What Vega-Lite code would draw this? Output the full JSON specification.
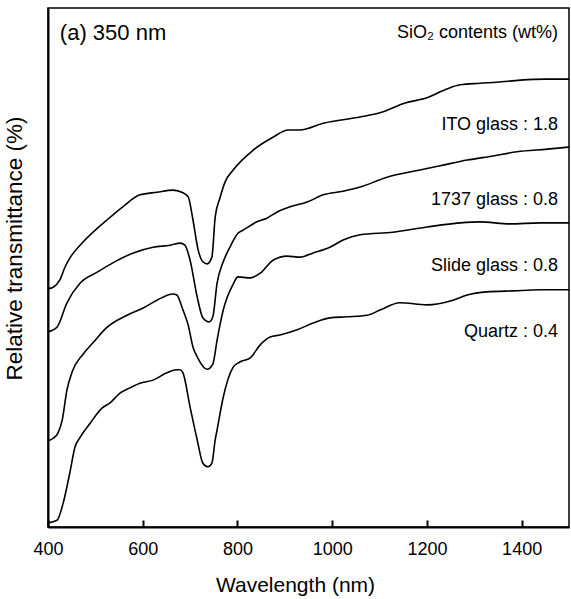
{
  "$schema": "https://vega.github.io/schema/vega-lite/v6.json",
  "width": 521,
  "height": 519,
  "autosize": {"type": "none"},
  "padding": {"left": 48, "top": 8, "right": 2, "bottom": 72},
  "background": "white",
  "config": {
    "view": {"stroke": "black", "strokeWidth": 1.5},
    "font": "Liberation Sans"
  },
  "datasets": {
    "curves": [
      {"sample": "ITO", "wavelength": 400, "t": 45.9},
      {"sample": "ITO", "wavelength": 411, "t": 46.2},
      {"sample": "ITO", "wavelength": 425, "t": 47.6},
      {"sample": "ITO", "wavelength": 436, "t": 50.1},
      {"sample": "ITO", "wavelength": 446, "t": 51.8},
      {"sample": "ITO", "wavelength": 474, "t": 54.9},
      {"sample": "ITO", "wavelength": 525, "t": 59.2},
      {"sample": "ITO", "wavelength": 558, "t": 61.7},
      {"sample": "ITO", "wavelength": 594, "t": 64.0},
      {"sample": "ITO", "wavelength": 630, "t": 64.5},
      {"sample": "ITO", "wavelength": 664, "t": 64.9},
      {"sample": "ITO", "wavelength": 685, "t": 64.4},
      {"sample": "ITO", "wavelength": 696, "t": 63.6},
      {"sample": "ITO", "wavelength": 706, "t": 59.2},
      {"sample": "ITO", "wavelength": 717, "t": 53.4},
      {"sample": "ITO", "wavelength": 727, "t": 51.1},
      {"sample": "ITO", "wavelength": 736, "t": 50.7},
      {"sample": "ITO", "wavelength": 746, "t": 52.0},
      {"sample": "ITO", "wavelength": 753, "t": 59.7},
      {"sample": "ITO", "wavelength": 763, "t": 63.4},
      {"sample": "ITO", "wavelength": 774, "t": 66.5},
      {"sample": "ITO", "wavelength": 791, "t": 68.8},
      {"sample": "ITO", "wavelength": 833, "t": 72.6},
      {"sample": "ITO", "wavelength": 875, "t": 75.1},
      {"sample": "ITO", "wavelength": 907, "t": 76.5},
      {"sample": "ITO", "wavelength": 932, "t": 76.5},
      {"sample": "ITO", "wavelength": 981, "t": 77.8},
      {"sample": "ITO", "wavelength": 1059, "t": 79.0},
      {"sample": "ITO", "wavelength": 1101, "t": 79.8},
      {"sample": "ITO", "wavelength": 1154, "t": 81.7},
      {"sample": "ITO", "wavelength": 1200, "t": 82.7},
      {"sample": "ITO", "wavelength": 1242, "t": 84.4},
      {"sample": "ITO", "wavelength": 1270, "t": 85.2},
      {"sample": "ITO", "wavelength": 1312, "t": 85.5},
      {"sample": "ITO", "wavelength": 1348, "t": 85.7},
      {"sample": "ITO", "wavelength": 1397, "t": 86.1},
      {"sample": "ITO", "wavelength": 1449, "t": 86.3},
      {"sample": "ITO", "wavelength": 1500, "t": 86.3},

      {"sample": "1737", "wavelength": 400, "t": 37.6},
      {"sample": "1737", "wavelength": 419, "t": 38.5},
      {"sample": "1737", "wavelength": 440, "t": 43.2},
      {"sample": "1737", "wavelength": 468, "t": 47.0},
      {"sample": "1737", "wavelength": 504, "t": 49.1},
      {"sample": "1737", "wavelength": 537, "t": 50.9},
      {"sample": "1737", "wavelength": 580, "t": 52.8},
      {"sample": "1737", "wavelength": 622, "t": 53.9},
      {"sample": "1737", "wavelength": 658, "t": 54.3},
      {"sample": "1737", "wavelength": 679, "t": 54.7},
      {"sample": "1737", "wavelength": 689, "t": 54.3},
      {"sample": "1737", "wavelength": 700, "t": 51.4},
      {"sample": "1737", "wavelength": 715, "t": 44.3},
      {"sample": "1737", "wavelength": 727, "t": 40.3},
      {"sample": "1737", "wavelength": 740, "t": 39.5},
      {"sample": "1737", "wavelength": 748, "t": 40.5},
      {"sample": "1737", "wavelength": 757, "t": 47.0},
      {"sample": "1737", "wavelength": 770, "t": 51.1},
      {"sample": "1737", "wavelength": 784, "t": 53.9},
      {"sample": "1737", "wavelength": 801, "t": 56.6},
      {"sample": "1737", "wavelength": 812, "t": 57.2},
      {"sample": "1737", "wavelength": 841, "t": 58.8},
      {"sample": "1737", "wavelength": 862, "t": 59.5},
      {"sample": "1737", "wavelength": 884, "t": 60.7},
      {"sample": "1737", "wavelength": 911, "t": 61.7},
      {"sample": "1737", "wavelength": 947, "t": 62.6},
      {"sample": "1737", "wavelength": 981, "t": 64.0},
      {"sample": "1737", "wavelength": 1023, "t": 64.7},
      {"sample": "1737", "wavelength": 1059, "t": 65.5},
      {"sample": "1737", "wavelength": 1116, "t": 67.4},
      {"sample": "1737", "wavelength": 1164, "t": 68.4},
      {"sample": "1737", "wavelength": 1228, "t": 69.6},
      {"sample": "1737", "wavelength": 1285, "t": 70.7},
      {"sample": "1737", "wavelength": 1340, "t": 71.5},
      {"sample": "1737", "wavelength": 1390, "t": 72.3},
      {"sample": "1737", "wavelength": 1454, "t": 72.8},
      {"sample": "1737", "wavelength": 1500, "t": 73.2},

      {"sample": "Slide", "wavelength": 400, "t": 16.6},
      {"sample": "Slide", "wavelength": 411, "t": 17.1},
      {"sample": "Slide", "wavelength": 421, "t": 18.1},
      {"sample": "Slide", "wavelength": 430, "t": 20.6},
      {"sample": "Slide", "wavelength": 440, "t": 26.4},
      {"sample": "Slide", "wavelength": 451, "t": 29.9},
      {"sample": "Slide", "wavelength": 474, "t": 33.3},
      {"sample": "Slide", "wavelength": 495, "t": 35.5},
      {"sample": "Slide", "wavelength": 525, "t": 38.5},
      {"sample": "Slide", "wavelength": 567, "t": 40.8},
      {"sample": "Slide", "wavelength": 601, "t": 42.2},
      {"sample": "Slide", "wavelength": 630, "t": 43.7},
      {"sample": "Slide", "wavelength": 664, "t": 44.9},
      {"sample": "Slide", "wavelength": 672, "t": 44.7},
      {"sample": "Slide", "wavelength": 685, "t": 41.8},
      {"sample": "Slide", "wavelength": 696, "t": 38.9},
      {"sample": "Slide", "wavelength": 706, "t": 34.7},
      {"sample": "Slide", "wavelength": 715, "t": 32.8},
      {"sample": "Slide", "wavelength": 736, "t": 30.4},
      {"sample": "Slide", "wavelength": 748, "t": 31.4},
      {"sample": "Slide", "wavelength": 757, "t": 36.0},
      {"sample": "Slide", "wavelength": 763, "t": 38.9},
      {"sample": "Slide", "wavelength": 770, "t": 41.8},
      {"sample": "Slide", "wavelength": 791, "t": 46.8},
      {"sample": "Slide", "wavelength": 801, "t": 48.2},
      {"sample": "Slide", "wavelength": 827, "t": 48.0},
      {"sample": "Slide", "wavelength": 848, "t": 48.9},
      {"sample": "Slide", "wavelength": 875, "t": 51.4},
      {"sample": "Slide", "wavelength": 905, "t": 52.2},
      {"sample": "Slide", "wavelength": 932, "t": 52.0},
      {"sample": "Slide", "wavelength": 960, "t": 52.8},
      {"sample": "Slide", "wavelength": 995, "t": 53.9},
      {"sample": "Slide", "wavelength": 1023, "t": 55.3},
      {"sample": "Slide", "wavelength": 1059, "t": 56.3},
      {"sample": "Slide", "wavelength": 1128, "t": 56.8},
      {"sample": "Slide", "wavelength": 1200, "t": 57.8},
      {"sample": "Slide", "wavelength": 1270, "t": 58.6},
      {"sample": "Slide", "wavelength": 1312, "t": 58.8},
      {"sample": "Slide", "wavelength": 1375, "t": 58.4},
      {"sample": "Slide", "wavelength": 1439, "t": 58.6},
      {"sample": "Slide", "wavelength": 1500, "t": 58.6},

      {"sample": "Quartz", "wavelength": 400, "t": 0.8},
      {"sample": "Quartz", "wavelength": 419, "t": 1.3},
      {"sample": "Quartz", "wavelength": 432, "t": 4.6},
      {"sample": "Quartz", "wavelength": 446, "t": 10.4},
      {"sample": "Quartz", "wavelength": 457, "t": 15.4},
      {"sample": "Quartz", "wavelength": 468, "t": 17.3},
      {"sample": "Quartz", "wavelength": 489, "t": 20.0},
      {"sample": "Quartz", "wavelength": 514, "t": 22.9},
      {"sample": "Quartz", "wavelength": 531, "t": 23.9},
      {"sample": "Quartz", "wavelength": 552, "t": 25.8},
      {"sample": "Quartz", "wavelength": 573, "t": 26.8},
      {"sample": "Quartz", "wavelength": 594, "t": 27.7},
      {"sample": "Quartz", "wavelength": 622, "t": 28.3},
      {"sample": "Quartz", "wavelength": 651, "t": 29.7},
      {"sample": "Quartz", "wavelength": 672, "t": 30.3},
      {"sample": "Quartz", "wavelength": 679, "t": 30.3},
      {"sample": "Quartz", "wavelength": 685, "t": 29.7},
      {"sample": "Quartz", "wavelength": 700, "t": 23.1},
      {"sample": "Quartz", "wavelength": 715, "t": 16.8},
      {"sample": "Quartz", "wavelength": 727, "t": 12.3},
      {"sample": "Quartz", "wavelength": 738, "t": 11.6},
      {"sample": "Quartz", "wavelength": 746, "t": 12.3},
      {"sample": "Quartz", "wavelength": 753, "t": 16.8},
      {"sample": "Quartz", "wavelength": 757, "t": 18.7},
      {"sample": "Quartz", "wavelength": 770, "t": 25.0},
      {"sample": "Quartz", "wavelength": 791, "t": 30.8},
      {"sample": "Quartz", "wavelength": 805, "t": 31.8},
      {"sample": "Quartz", "wavelength": 827, "t": 32.6},
      {"sample": "Quartz", "wavelength": 848, "t": 35.1},
      {"sample": "Quartz", "wavelength": 869, "t": 36.6},
      {"sample": "Quartz", "wavelength": 890, "t": 37.0},
      {"sample": "Quartz", "wavelength": 926, "t": 38.0},
      {"sample": "Quartz", "wavelength": 960, "t": 39.3},
      {"sample": "Quartz", "wavelength": 995, "t": 40.3},
      {"sample": "Quartz", "wavelength": 1031, "t": 40.5},
      {"sample": "Quartz", "wavelength": 1074, "t": 40.8},
      {"sample": "Quartz", "wavelength": 1101, "t": 41.8},
      {"sample": "Quartz", "wavelength": 1143, "t": 43.2},
      {"sample": "Quartz", "wavelength": 1200, "t": 42.8},
      {"sample": "Quartz", "wavelength": 1255, "t": 43.7},
      {"sample": "Quartz", "wavelength": 1285, "t": 44.7},
      {"sample": "Quartz", "wavelength": 1327, "t": 45.3},
      {"sample": "Quartz", "wavelength": 1382, "t": 45.5},
      {"sample": "Quartz", "wavelength": 1439, "t": 45.7},
      {"sample": "Quartz", "wavelength": 1500, "t": 45.7}
    ],
    "labels": [
      {"label": "SiO₂ contents (wt%)", "wavelength": 1477, "t": 95.2},
      {"label": "ITO glass : 1.8", "wavelength": 1477, "t": 77.5},
      {"label": "1737 glass : 0.8", "wavelength": 1477, "t": 63.0},
      {"label": "Slide glass : 0.8", "wavelength": 1477, "t": 50.3},
      {"label": "Quartz : 0.4", "wavelength": 1477, "t": 37.6}
    ],
    "panel": [
      {"label": "(a) 350 nm", "wavelength": 425, "t": 95.2}
    ]
  },
  "layer": [
    {
      "data": {"name": "curves"},
      "mark": {"type": "line", "color": "black", "strokeWidth": 1.6, "interpolate": "monotone"},
      "encoding": {
        "x": {
          "field": "wavelength", "type": "quantitative",
          "scale": {"domain": [400, 1500], "nice": false, "zero": false},
          "axis": {
            "title": "Wavelength (nm)",
            "values": [400, 600, 800, 1000, 1200, 1400],
            "format": "d",
            "labelFlush": false,
            "grid": false,
            "domainColor": "black", "domainWidth": 2,
            "tickColor": "black", "tickWidth": 2, "tickSize": -7,
            "labelFont": "Liberation Sans", "labelFontSize": 18, "labelColor": "black",
            "labelPadding": 20,
            "titleFont": "Liberation Sans", "titleFontSize": 21, "titleFontWeight": "normal", "titleColor": "black",
            "titleX": 247, "titleY": 64, "titleAlign": "center", "titleBaseline": "alphabetic"
          }
        },
        "y": {
          "field": "t", "type": "quantitative",
          "scale": {"domain": [0, 100], "nice": false, "zero": false},
          "axis": {
            "title": "Relative transmittance (%)",
            "labels": false, "ticks": false, "grid": false,
            "domainColor": "black", "domainWidth": 2,
            "titleFont": "Liberation Sans", "titleFontSize": 22.5, "titleFontWeight": "normal", "titleColor": "black",
            "titlePadding": 22,
            "titleY": 240
          }
        },
        "detail": {"field": "sample", "type": "nominal"}
      }
    },
    {
      "data": {"name": "labels"},
      "mark": {"type": "text", "align": "right", "baseline": "middle", "fontSize": 18, "font": "Liberation Sans", "color": "black"},
      "encoding": {
        "x": {"field": "wavelength", "type": "quantitative"},
        "y": {"field": "t", "type": "quantitative"},
        "text": {"field": "label"}
      }
    },
    {
      "data": {"name": "panel"},
      "mark": {"type": "text", "align": "left", "baseline": "middle", "fontSize": 22, "font": "Liberation Sans", "color": "black"},
      "encoding": {
        "x": {"field": "wavelength", "type": "quantitative"},
        "y": {"field": "t", "type": "quantitative"},
        "text": {"field": "label"}
      }
    }
  ]
}
